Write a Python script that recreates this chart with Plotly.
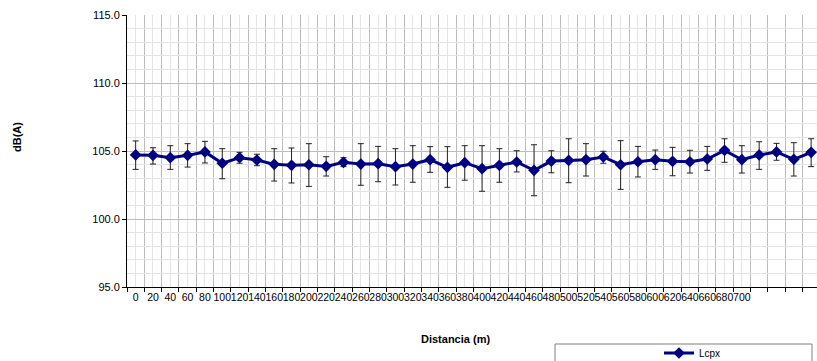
import plotly.graph_objects as go

distances = [i * 20 for i in range(40)]
tick_labels = [str(d) for d in distances if d <= 700]
tick_positions = [d for d in distances if d <= 700]

lcpx = [104.71, 104.68, 104.51, 104.68, 104.93, 104.10, 104.51, 104.34, 104.02, 103.95,
        103.99, 103.87, 104.17, 104.04, 104.07, 103.85, 104.04, 104.36, 103.80, 104.14,
        103.70, 103.95, 104.19, 103.58, 104.26, 104.31, 104.36, 104.56, 103.99, 104.21,
        104.36, 104.24, 104.21, 104.41, 105.05, 104.36, 104.71, 104.93, 104.39, 104.90]
err_upper = [105.74, 105.24, 105.39, 105.54, 105.71, 105.17, 104.90, 104.76, 105.17, 105.22,
             105.54, 104.58, 104.51, 105.54, 105.34, 105.17, 105.39, 105.32, 105.32, 105.39,
             105.39, 105.17, 105.02, 105.46, 105.02, 105.90, 105.54, 104.98, 105.76, 105.34,
             105.07, 105.27, 105.05, 105.34, 105.90, 105.39, 105.68, 105.56, 105.61, 105.90]
err_lower = [103.65, 104.04, 103.65, 103.82, 104.12, 102.96, 104.10, 103.92, 102.79, 102.65,
             102.40, 103.16, 103.85, 102.48, 102.74, 102.50, 102.70, 103.43, 102.33, 102.85,
             102.04, 102.70, 103.46, 101.71, 103.40, 102.67, 103.16, 104.10, 102.18, 103.09,
             103.65, 103.18, 103.38, 103.58, 104.17, 103.38, 103.65, 104.32, 103.16, 103.85]

plus = [u - v for u, v in zip(err_upper, lcpx)]
minus = [v - l for v, l in zip(lcpx, err_lower)]

boundaries = [d - 10 for d in distances] + [distances[-1] + 10]

# layout geometry (pixels)
W, H = 817, 361
L, R, T, B = 127, 0, 15, 74
PW, PH = W - L - R, H - T - B


def px(xp):
    return (xp - L) / PW


def py(yp):
    return (H - B - yp) / PH


fig = go.Figure()
fig.add_trace(go.Scatter(
    x=distances, y=lcpx, name="Lcpx", mode="lines+markers",
    line=dict(color="#000080", width=3),
    marker=dict(symbol="diamond", size=9, color="#000080"),
    error_y=dict(type="data", symmetric=False, array=plus, arrayminus=minus,
                 color="#222222", thickness=1, width=3),
))

font = "Liberation Sans, Arial, sans-serif"
fig.update_layout(
    width=W, height=H,
    margin=dict(l=L, r=R, t=T, b=B, autoexpand=False),
    paper_bgcolor="white", plot_bgcolor="white",
    font=dict(family=font, size=10, color="black"),
    showlegend=True,
    legend=dict(xref="container", yref="container", x=659 / W, y=1 - 353 / H,
                xanchor="left", yanchor="middle",
                orientation="h", font=dict(size=10, family=font),
                bgcolor="rgba(0,0,0,0)", itemwidth=30),
    xaxis=dict(
        range=[boundaries[0], boundaries[0] + 20 * PW / 17.32],
        tickmode="array", tickvals=tick_positions, ticktext=tick_labels,
        tickangle=0, automargin=False,
        ticks="", showgrid=True, gridcolor="#e4e4e4", gridwidth=1,
        showline=True, linecolor="black", linewidth=1,
        zeroline=False,
        tickfont=dict(size=10.5, family=font),
        minor=dict(tickmode="array", tickvals=boundaries, ticks="outside",
                   ticklen=4, tickcolor="black", showgrid=True,
                   gridcolor="#bdbdbd", gridwidth=1),
    ),
    yaxis=dict(
        range=[95, 115], tickmode="linear", tick0=95, dtick=5, tickformat=".1f",
        ticks="outside", ticklen=4, tickcolor="black", automargin=False,
        showgrid=True, gridcolor="#bdbdbd", gridwidth=1,
        showline=True, linecolor="black", linewidth=1, zeroline=False,
        tickfont=dict(size=11, family=font),
        minor=dict(dtick=1, showgrid=True, gridcolor="#e4e4e4", gridwidth=1, ticks=""),
    ),
    annotations=[
        dict(text="<b>Distancia (m)</b>", xref="paper", yref="paper",
             x=px(455), y=py(339), xanchor="center", yanchor="middle",
             showarrow=False, font=dict(size=11, family=font)),
        dict(text="<b>dB(A)</b>", xref="paper", yref="paper", textangle=-90,
             x=px(17), y=py(137), xanchor="center", yanchor="middle",
             showarrow=False, font=dict(size=11, family=font)),
    ],
    shapes=[dict(type="rect", xref="paper", yref="paper",
                 x0=px(555), x1=px(812), y0=py(344), y1=py(380),
                 line=dict(color="#808080", width=1), fillcolor="rgba(0,0,0,0)")],
)

fig.write_html("out.html")
